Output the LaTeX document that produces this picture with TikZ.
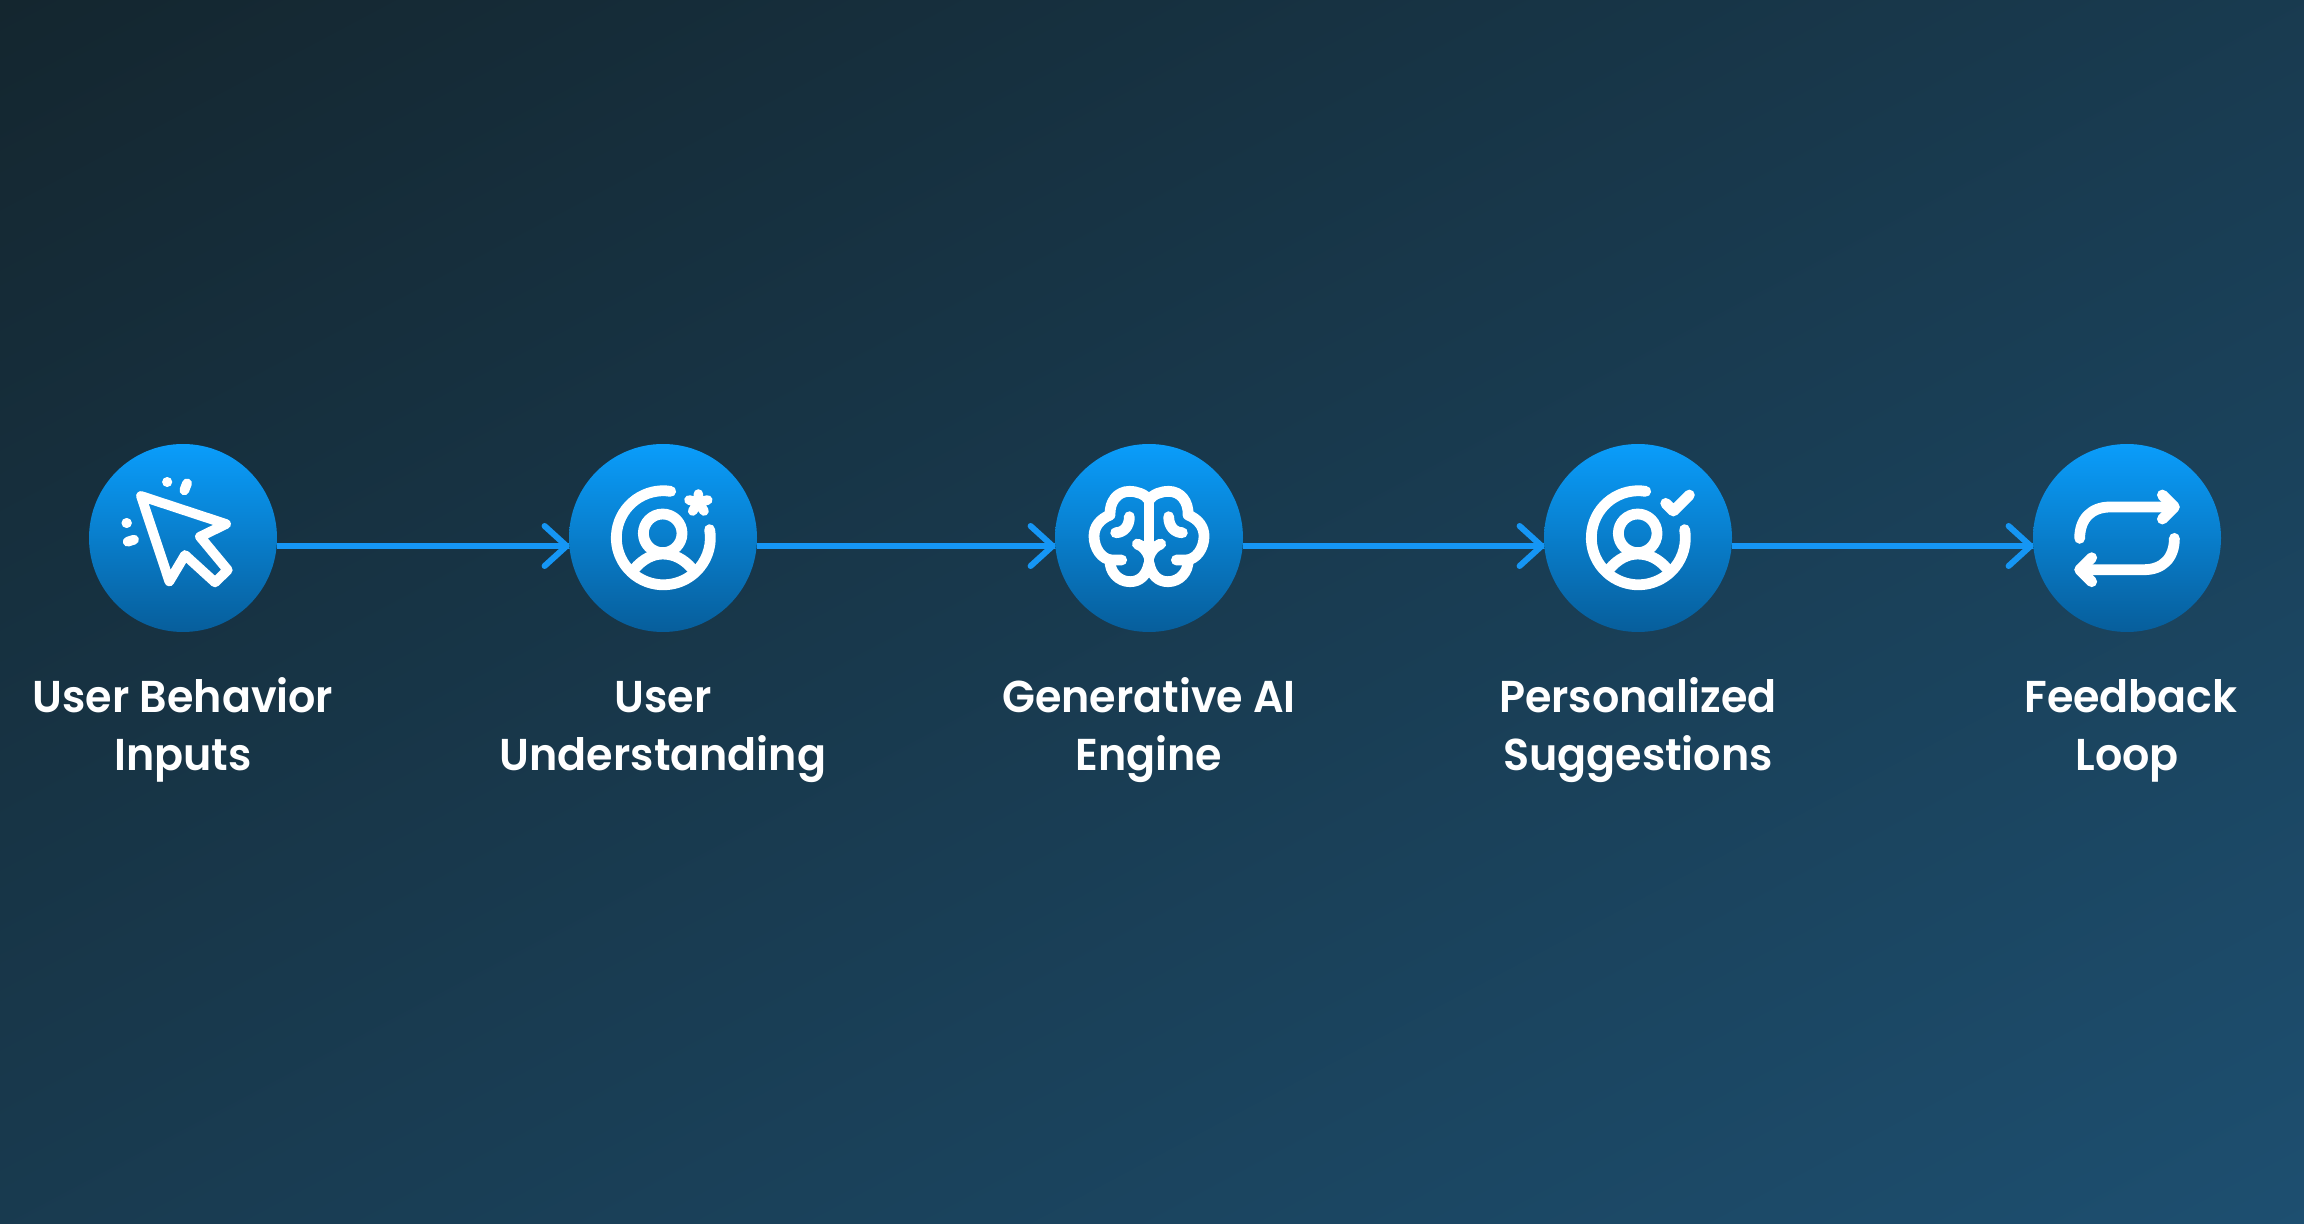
\documentclass[tikz,border=0pt]{standalone}
\usepackage{fontspec}
\setmainfont{Poppins SemiBold}[FakeStretch=0.96]
\usetikzlibrary{arrows.meta}
\definecolor{dA}{HTML}{075E9B}
\definecolor{dB}{HTML}{0A9DFB}
\definecolor{flow}{HTML}{1596F5}
\pgfdeclarelayer{bglayer}
\pgfdeclarelayer{linklayer}
\pgfsetlayers{bglayer,linklayer,main}
\pgfdeclarefunctionalshading{bgshade}{\pgfpoint{0bp}{0bp}}{\pgfpoint{100bp}{100bp}}{}{
  25 sub 50 div exch 25 sub 50 div
  0.5 mul exch 1 exch sub 0.5 mul add
  dup dup
  0.0353 mul 0.0784 add 3 1 roll
  0.16 mul 0.149 add exch
  0.255 mul 0.184 add
}
\pgfdeclareverticalshading{discshade}{100bp}{color(0bp)=(dA); color(25bp)=(dA); color(75bp)=(dB); color(100bp)=(dB)}
\tikzset{
  x=0.5pt,y=-0.5pt,
  disc/.style={circle,minimum size=94pt,inner sep=0pt,shading=discshade},
  flowline/.style={draw=flow,line width=3pt,line cap=round,line join=round},
  ico/.style={draw=white,line width=5.4pt,line cap=round,line join=round},
  lab/.style={text=white,align=center,font=\fontsize{22.3}{29}\selectfont,inner sep=0pt,anchor=base},
}
\begin{document}
\begin{tikzpicture}
\useasboundingbox (0,0) rectangle (2304,1224);
\begin{pgfonlayer}{bglayer}
\path[shading=bgshade] (0,0) rectangle (2304,1224);
\end{pgfonlayer}
\node[disc] (n1) at (183,538) {};
\node[disc] (n2) at (663,538) {};
\node[disc] (n3) at (1149,538) {};
\node[disc] (n4) at (1638,538) {};
\node[disc] (n5) at (2127,538) {};
\coordinate (a1) at (n1.east |- 0,546); \coordinate (b1) at (n2.west |- 0,546);
\coordinate (a2) at (n2.east |- 0,546); \coordinate (b2) at (n3.west |- 0,546);
\coordinate (a3) at (n3.east |- 0,546); \coordinate (b3) at (n4.west |- 0,546);
\coordinate (a4) at (n4.east |- 0,546); \coordinate (b4) at (n5.west |- 0,546);
\begin{pgfonlayer}{linklayer}
\foreach \i in {1,2,3,4}{
  \draw[flowline,line cap=butt] (a\i) -- (b\i);
  \draw[flowline] ([shift={(-24,-20)}]b\i) -- ([xshift=-1pt]b\i) -- ([shift={(-24,20)}]b\i);
}
\end{pgfonlayer}
% labels
\node[lab] (t1) at (183,771) {User Behavior\\Inputs};
\node[lab] (t2) at (663,771) {User\\Understanding};
\node[lab] (t3) at (1149,771) {Generative AI\\Engine};
\node[lab] (t4) at (1638,771) {Personalized\\Suggestions};
\node[lab] (t5) at (2127,771) {\hspace*{4pt}Feedback\\Loop};
% icon 1: cursor
\begin{scope}[shift={(60,420)},x=0.1667pt,y=-0.1667pt,ico/.append style={line width=4.9pt}]
\draw[ico] (243,228) -- (498,312) -- (420,350) -- (503,450) -- (465,487) -- (375,405) -- (328,484) -- cycle;
\draw[ico] (321,186) -- (322,186);
\draw[ico] (381,190) -- (373,211);
\draw[ico] (199,309) -- (201,309);
\draw[ico] (203,365) -- (222,359);
\end{scope}
% icon 2: person + asterisk
\begin{scope}[shift={(540,420)},x=0.1667pt,y=-0.1667pt]
\draw[ico] (392,214) arc[start angle=-81,end angle=-370,radius=141];
\draw[ico] (368,340) circle[radius=58];
\draw[ico] (282,448) .. controls (310,415) and (340,402) .. (368,402) .. controls (400,402) and (430,415) .. (458,448);
\draw[draw=white,line width=4.8pt,line cap=round] (475,222) -- (475,247) (503,240) -- (475,247) (492,273) -- (475,247) (458,273) -- (475,247) (447,240) -- (475,247);
\end{scope}
% icon 3: brain
\begin{scope}[shift={(1030,420)},x=0.1667pt,y=-0.1667pt]
\draw[ico] (357,240) .. controls (345,222) and (320,214) .. (298,214) .. controls (262,214) and (238,245) .. (240,285) .. controls (210,297) and (192,320) .. (192,348) .. controls (192,385) and (215,418) .. (245,420) -- (275,420);
\draw[ico] (240,420) .. controls (238,455) and (265,485) .. (300,485) .. controls (330,485) and (350,465) .. (357,430);
\draw[ico] (357,240) .. controls (369,222) and (394,214) .. (416,214) .. controls (452,214) and (476,245) .. (474,285) .. controls (504,297) and (522,320) .. (522,348) .. controls (522,385) and (499,418) .. (469,420) -- (439,420);
\draw[ico] (474,420) .. controls (476,455) and (449,485) .. (414,485) .. controls (384,485) and (364,465) .. (357,430);
\draw[ico] (357,240) -- (357,430);
\draw[ico] (322,372) .. controls (340,378) and (352,395) .. (357,410);
\draw[ico] (392,372) .. controls (374,378) and (362,395) .. (357,410);
\draw[ico] (298,290) .. controls (298,320) and (280,338) .. (257,338);
\draw[ico] (416,290) .. controls (416,320) and (434,338) .. (457,338);
\end{scope}
% icon 4: person + check
\begin{scope}[shift={(1510,420)},x=0.1667pt,y=-0.1667pt]
\draw[ico] (407,214) arc[start angle=-81,end angle=-370,radius=141];
\draw[ico] (383,340) circle[radius=58];
\draw[ico] (297,448) .. controls (325,415) and (355,402) .. (383,402) .. controls (415,402) and (445,415) .. (473,448);
\draw[ico] (467,250) -- (490,273) -- (538,225);
\end{scope}
% icon 5: repeat
\begin{scope}[shift={(2000,420)},x=0.1667pt,y=-0.1667pt]
\draw[ico] (239,355) .. controls (239,295) and (275,261) .. (330,261) -- (522,261);
\draw[ico] (487,225) -- (523,261) -- (487,297);
\draw[ico] (523,355) .. controls (523,415) and (487,449) .. (432,449) -- (240,449);
\draw[ico] (275,413) -- (239,449) -- (275,485);
\end{scope}
\end{tikzpicture}
\end{document}
